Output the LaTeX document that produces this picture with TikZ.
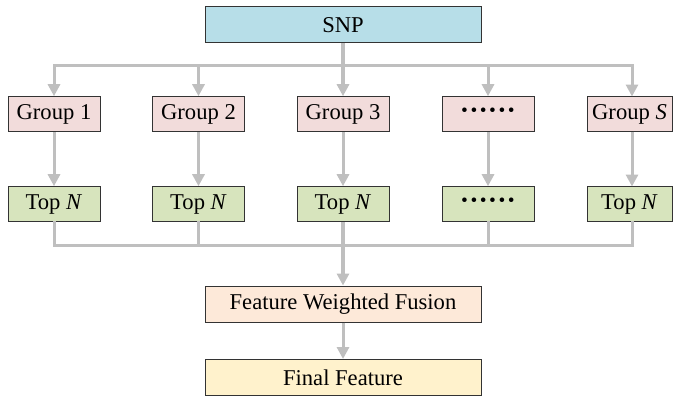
\documentclass[tikz,border=0pt]{standalone}
\usepackage{fontspec}
\setmainfont{Liberation Serif}
\usetikzlibrary{arrows.meta}
\definecolor{snpblue}{HTML}{B7DEE8}
\definecolor{grppink}{HTML}{F2DCDB}
\definecolor{topgreen}{HTML}{D7E4BD}
\definecolor{fusepeach}{HTML}{FDE9D9}
\definecolor{finalyellow}{HTML}{FFF2CC}
\definecolor{boxline}{HTML}{333333}
\definecolor{linkgray}{HTML}{BFBFBF}
\newcommand\rowg{114.2}
\newcommand\rowt{204.2}
\newcommand\bustop{65}
\newcommand\busbot{245}
\newcommand\dotrow{{\fontsize{14}{14}\selectfont\bfseries ······}}

\begin{document}
\begin{tikzpicture}[x=0.5pt, y=-0.5pt,
    box/.style={draw=boxline, line width=0.5pt, minimum width=46pt, minimum height=17.5pt,
                inner sep=0pt, font=\fontsize{11.3}{13}\selectfont},
    wide/.style={box, minimum width=138pt, minimum height=18pt},
    link/.style={draw=linkgray, line width=1.5pt, line cap=rect},
    arrow/.style={draw=linkgray, line width=1.5pt, -{Triangle[width=6pt,length=6pt]}}]

    \useasboundingbox (0,0) rectangle (673,396);

    % SNP
    \node at (343, 24.7) [wide, fill=snpblue] (snp) {SNP};

    % Groups
    \node at (54, \rowg) [box, fill=grppink] (g1) {Group 1};
    \node at (198.5, \rowg) [box, fill=grppink] (g2) {Group 2};
    \node at (343, \rowg) [box, fill=grppink] (g3) {Group 3};
    \node at (488, \rowg) [box, fill=grppink] (g4) {\dotrow};
    \node at (629.5, \rowg) [box, fill=grppink, minimum width=42.5pt] (g5) {Group \textit{S}};

    % Top N
    \node at (54, \rowt) [box, fill=topgreen] (t1) {Top \textit{N}};
    \node at (198.5, \rowt) [box, fill=topgreen] (t2) {Top \textit{N}};
    \node at (343, \rowt) [box, fill=topgreen] (t3) {Top \textit{N}};
    \node at (488, \rowt) [box, fill=topgreen] (t4) {\dotrow};
    \node at (629.5, \rowt) [box, fill=topgreen, minimum width=42.5pt] (t5) {Top \textit{N}};

    % Fusion
    \node at (343, 304) [wide, fill=fusepeach] (fuse) {Feature Weighted Fusion};
    \node at (343, 377.5) [wide, fill=finalyellow] (final) {Final Feature};

    \coordinate (bt) at (0, \bustop);
    \coordinate (bb) at (0, \busbot);

    % top bus
    \draw[link] (g1 |- bt) -- (632, \bustop);
    \draw[arrow, line width=1.7pt] (snp.south) -- (g3.north);
    \foreach \g in {g1, g2, g4} {
        \draw[arrow] (\g |- bt) -- (\g.north);
    }
    \draw[arrow] (632, \bustop) -- (632, 96.5);

    % group to top N
    \foreach \i in {1,...,4} {
        \draw[arrow] (g\i.south) -- (t\i.north);
    }
    \draw[arrow] (632, 131.5) -- (632, 186.5);

    % bottom bus
    \foreach \t in {t1, t2, t4} {
        \draw[link] (\t.south) -- (\t |- bb);
    }
    \draw[link] (632, 222) -- (632, \busbot);
    \draw[link] (t1 |- bb) -- (632, \busbot);
    \draw[arrow, line width=1.7pt] (t3.south) -- (fuse.north);
    \draw[arrow] (fuse.south) -- (final.north);

\end{tikzpicture}
\end{document}
